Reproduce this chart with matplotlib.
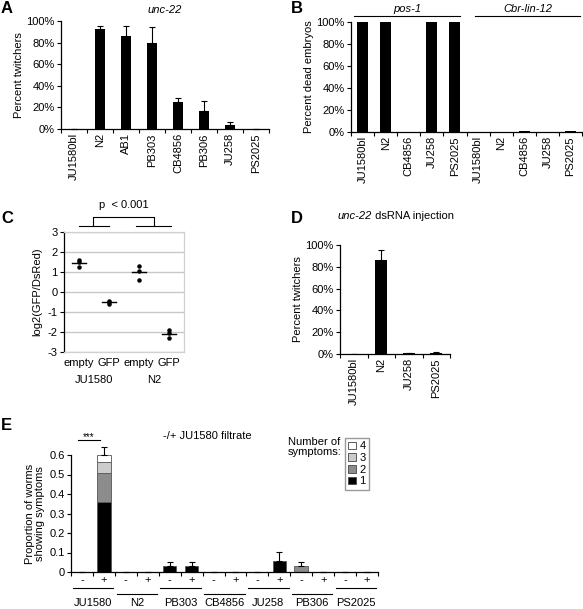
import numpy as np
import matplotlib
matplotlib.use("Agg")
import matplotlib.pyplot as plt
from matplotlib.patches import Patch
from matplotlib.ticker import PercentFormatter, FixedLocator
import matplotlib.transforms as mtransforms

plt.rcParams["font.family"] = ["Liberation Sans", "DejaVu Sans"]
plt.rcParams["font.size"] = 8
plt.rcParams["axes.unicode_minus"] = False
plt.rcParams["axes.linewidth"] = 0.9

# --- DATA ---
# A: unc-22 feeding RNAi
a_strains = ["JU1580bl", "N2", "AB1", "PB303", "CB4856", "PB306", "JU258", "PS2025"]
a_twitch = [0, 0.925, 0.865, 0.80, 0.247, 0.17, 0.037, 0]
a_err = [0, 0.03, 0.09, 0.14, 0.04, 0.09, 0.028, 0]

# B: pos-1 / Cbr-lin-12 RNAi
b_strains = ["JU1580bl", "N2", "CB4856", "JU258", "PS2025"]
b_pos1 = [1.0, 1.0, 0, 1.0, 1.0]
b_linl12 = [0, 0.003, 0.007, 0, 0.006]

# C: GFP sensor
c_labels = ["empty", "GFP", "empty", "GFP"]
c_groups = ["JU1580", "N2"]
c_points = [[1.6, 1.52, 1.27], [-0.45, -0.52, -0.6],
            [1.28, 1.07, 0.62], [-1.9, -2.05, -2.3]]

# D: unc-22 dsRNA injection
d_strains = ["JU1580bl", "N2", "JU258", "PS2025"]
d_twitch = [0, 0.865, 0.007, 0.01]
d_err = [0, 0.085, 0.006, 0.006]

# E: JU1580 filtrate
e_strains = ["JU1580", "N2", "PB303", "CB4856", "JU258", "PB306", "PS2025"]
e_cond = ["-", "+"]
e_sym1 = [0, 0.36, 0, 0, 0.029, 0.029, 0, 0, 0, 0.055, 0, 0, 0, 0]
e_sym2 = [0, 0.15, 0, 0, 0, 0, 0, 0, 0, 0, 0.029, 0, 0, 0]
e_sym3 = [0, 0.053, 0, 0, 0, 0, 0, 0, 0, 0, 0, 0, 0, 0]
e_sym4 = [0, 0.037, 0, 0, 0, 0, 0, 0, 0, 0, 0, 0, 0, 0]
e_err = [0, 0.04, 0, 0, 0.022, 0.022, 0, 0, 0, 0.047, 0.022, 0, 0, 0]
e_colors = ["black", "#8c8c8c", "#cccccc", "white"]

W, H = 583, 609
fig = plt.figure(figsize=(W / 100, H / 100), dpi=100)


def rect(x0, x1, ytop, ybot):
    return [x0 / W, 1 - ybot / H, (x1 - x0) / W, (ybot - ytop) / H]


def cat_axis(ax, labels, rotation=90, pad=3):
    n = len(labels)
    ax.set_xlim(-0.5, n - 0.5)
    ax.set_xticks(range(n))
    ax.set_xticklabels(labels, rotation=rotation)
    ax.xaxis.set_minor_locator(FixedLocator(np.arange(-0.5, n, 1.0)))
    ax.tick_params(axis="x", which="major", length=0, pad=pad)
    ax.tick_params(axis="x", which="minor", length=3, width=0.8)
    ax.tick_params(axis="y", length=3, width=0.8, pad=1.5)
    for s in ["top", "right"]:
        ax.spines[s].set_visible(False)


def letter(x, y, s):
    fig.text(x / W, 1 - y / H, s, fontsize=12, fontweight="bold", va="top", ha="left")


# --- A ---
axA = fig.add_axes(rect(61, 269, 21, 129))
xa = np.arange(len(a_strains))
axA.bar(xa, a_twitch, width=0.4, color="black")
axA.errorbar(xa, a_twitch, yerr=[np.zeros(len(xa)), a_err], fmt="none",
             ecolor="black", elinewidth=0.8, capsize=2, capthick=0.8, clip_on=False)
axA.set_ylim(0, 1)
axA.set_yticks(np.arange(0, 1.01, 0.2))
axA.yaxis.set_major_formatter(PercentFormatter(1, decimals=0))
cat_axis(axA, a_strains)
axA.set_ylabel("Percent twitchers", labelpad=2)
fig.text(165 / W, 1 - 10 / H, "unc-22", style="italic", ha="center", va="center")
letter(1, 1, "A")

# --- B ---
axB = fig.add_axes(rect(351, 582, 22, 132))
b_vals = b_pos1 + b_linl12
xb = np.arange(len(b_vals))
axB.bar(xb, b_vals, width=0.48, color="black")
axB.set_ylim(0, 1)
axB.set_yticks(np.arange(0, 1.01, 0.2))
axB.yaxis.set_major_formatter(PercentFormatter(1, decimals=0))
cat_axis(axB, b_strains + b_strains)
axB.set_ylabel("Percent dead embryos", labelpad=2)
for x0, x1, name in [(354, 460, "pos-1"), (475, 580, "Cbr-lin-12")]:
    fig.add_artist(plt.Line2D([x0 / W, x1 / W], [1 - 16 / H] * 2, color="black", lw=0.8))
    fig.text((x0 + x1) / 2 / W, 1 - 9 / H, name, style="italic", ha="center", va="center")
letter(291, 1, "B")

# --- C ---
axC = fig.add_axes(rect(64, 184, 232, 352))
for i, pts in enumerate(c_points):
    axC.scatter([i] * len(pts), pts, s=5, color="black", zorder=3)
    m = np.mean(pts)
    axC.plot([i - 0.22, i + 0.22], [m, m], color="black", lw=1.0, zorder=3)
axC.set_xlim(-0.5, 3.5)
axC.set_ylim(-3, 3)
axC.set_yticks(range(-3, 4))
axC.set_xticks(range(4))
axC.set_xticklabels(c_labels)
axC.tick_params(axis="x", length=0, pad=4)
axC.tick_params(axis="y", length=3, width=0.8, pad=1.5)
axC.grid(axis="y", color="#c8c8c8", lw=1.0)
axC.set_axisbelow(True)
for s in ["top", "right", "bottom"]:
    axC.spines[s].set_color("#d0d0d0")
axC.set_ylabel("log2(GFP/DsRed)", labelpad=4)
tC = mtransforms.blended_transform_factory(axC.transData, axC.transAxes)
for j, g in enumerate(c_groups):
    axC.text(2 * j + 0.5, -0.23, g, transform=tC, ha="center", va="center")
axC.plot([0, 1], [3.3, 3.3], color="black", lw=0.8, clip_on=False)
axC.plot([1.9, 3.05], [3.3, 3.3], color="black", lw=0.8, clip_on=False)
axC.plot([0.48, 0.48, 2.5, 2.5], [3.3, 3.75, 3.75, 3.3], color="black", lw=0.8, clip_on=False)
axC.text(1.5, 4.35, "p  < 0.001", ha="center", va="center")
letter(1, 211, "C")

# --- D ---
axD = fig.add_axes(rect(340, 450, 245, 354))
xd = np.arange(len(d_strains))
axD.bar(xd, d_twitch, width=0.45, color="black")
axD.errorbar(xd, d_twitch, yerr=[np.zeros(len(xd)), d_err], fmt="none",
             ecolor="black", elinewidth=0.8, capsize=2, capthick=0.8)
axD.set_ylim(0, 1)
axD.set_yticks(np.arange(0, 1.01, 0.2))
axD.yaxis.set_major_formatter(PercentFormatter(1, decimals=0))
cat_axis(axD, d_strains)
axD.set_ylabel("Percent twitchers", labelpad=2)
t1 = fig.text(338 / W, 1 - 216 / H, "unc-22", style="italic", ha="left", va="center")
axD.annotate(" dsRNA injection", xy=(1, 0.5), xycoords=t1, ha="left", va="center",
             annotation_clip=False)
letter(291, 211, "D")

# --- E ---
axE = fig.add_axes(rect(71, 378, 455, 572))
xe = np.arange(len(e_sym1))
bottom = np.zeros(len(xe))
for vals, col in zip([e_sym1, e_sym2, e_sym3, e_sym4], e_colors):
    axE.bar(xe, vals, width=0.62, bottom=bottom, color=col,
            edgecolor="#555555", linewidth=0.6 * (np.array(vals) > 0))
    bottom = bottom + np.array(vals)
axE.errorbar(xe, bottom, yerr=[np.zeros(len(xe)), e_err], fmt="none",
             ecolor="black", elinewidth=0.8, capsize=2, capthick=0.8, clip_on=False)
axE.set_ylim(0, 0.6)
axE.set_yticks(np.arange(0, 0.61, 0.1))
axE.set_yticklabels(["0"] + ["%.1f" % v for v in np.arange(0.1, 0.61, 0.1)])
cat_axis(axE, e_cond * len(e_strains), rotation=0, pad=2)
axE.set_ylabel("Proportion of worms\nshowing symptoms", labelpad=3, linespacing=1.0)
tE = mtransforms.blended_transform_factory(axE.transData, axE.transAxes)
for j, s in enumerate(e_strains):
    c = 2 * j + 0.5
    ly = -0.14 if j % 2 == 0 else -0.19
    axE.plot([c - 0.92, c + 0.92], [ly, ly], color="black", lw=0.8,
             transform=tE, clip_on=False)
    axE.text(c, -0.265, s, transform=tE, ha="center", va="center")
axE.plot([-0.2, 0.8], [0.677, 0.677], color="black", lw=0.8, clip_on=False)
axE.text(0.3, 0.692, "***", ha="center", va="center", fontsize=7)
axE.text(5.7, 0.697, "-/+ JU1580 filtrate", ha="center", va="center")
fig.text(288 / W, 1 - 447 / H, "Number of\nsymptoms:", ha="left", va="center",
         linespacing=0.95)
handles = [Patch(facecolor=c, edgecolor="#444444", linewidth=0.6, label=l)
           for c, l in zip(e_colors[::-1], ["4", "3", "2", "1"])]
fig.legend(handles=handles, loc="upper left", bbox_to_anchor=(345 / W, 1 - 438 / H),
           frameon=True, fancybox=False, edgecolor="#808080", handlelength=0.7,
           handleheight=0.7, handletextpad=0.3, borderpad=0.3, labelspacing=0.15,
           borderaxespad=0, fontsize=8)
letter(1, 418, "E")

fig.savefig("out.png", dpi=100)
